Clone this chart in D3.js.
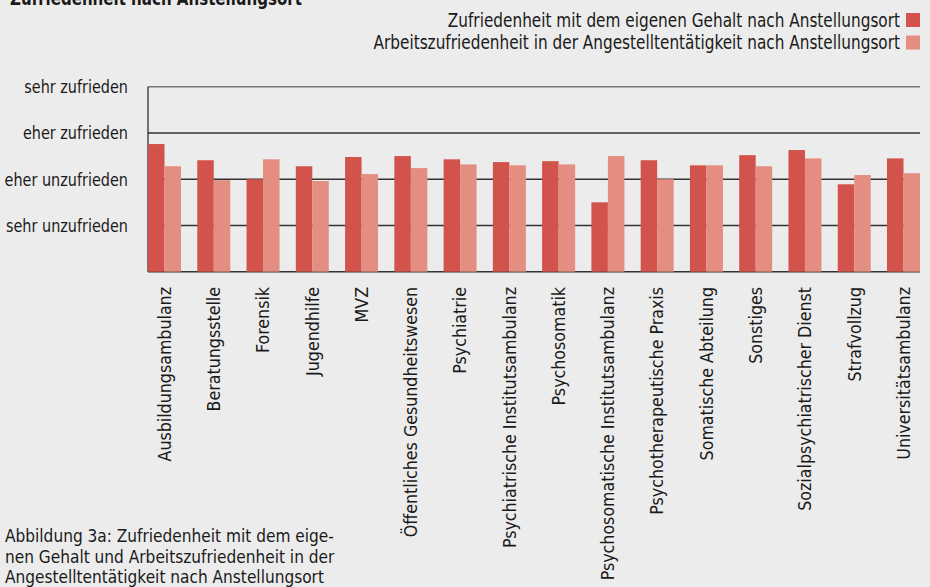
<!DOCTYPE html>
<html>
<head>
<meta charset="utf-8">
<script src="https://cdn.jsdelivr.net/npm/d3@7"></script>
<style>
    body { margin: 0; background: #ececec; }
    svg { display: block; }
    text { font-family: "DejaVu Sans Condensed", "DejaVu Sans", sans-serif; fill: #1a1a1a; }
</style>
</head>
<body>
<div id="chart"></div>
<script>
const categories = ["Ausbildungsambulanz", "Beratungsstelle", "Forensik", "Jugendhilfe", "MVZ",
    "Öffentliches Gesundheitswesen", "Psychiatrie", "Psychiatrische Institutsambulanz", "Psychosomatik",
    "Psychosomatische Institutsambulanz", "Psychotherapeutische Praxis", "Somatische Abteilung",
    "Sonstiges", "Sozialpsychiatrischer Dienst", "Strafvollzug", "Universitätsambulanz"];
const gehalt = [2.76, 2.41, 2.00, 2.28, 2.48, 2.50, 2.43, 2.37, 2.39, 1.50, 2.41, 2.30, 2.52, 2.63, 1.89, 2.45];
const arbeit = [2.28, 1.98, 2.43, 1.96, 2.11, 2.24, 2.32, 2.30, 2.32, 2.50, 2.00, 2.30, 2.28, 2.45, 2.09, 2.13];
const tickValues = [1, 2, 3, 4];
const tickLabels = ["sehr unzufrieden", "eher unzufrieden", "eher zufrieden", "sehr zufrieden"];
const seriesNames = ["Zufriedenheit mit dem eigenen Gehalt nach Anstellungsort",
    "Arbeitszufriedenheit in der Angestelltentätigkeit nach Anstellungsort"];
const colors = ["#d2534b", "#e38e81"];
const title = "Zufriedenheit nach Anstellungsort";
const caption = ["Abbildung 3a: Zufriedenheit mit dem eige-",
    "nen Gehalt und Arbeitszufriedenheit in der",
    "Angestelltentätigkeit nach Anstellungsort"];

const W = 930, H = 587;
const plot = { left: 148, right: 920, top: 86.7, bottom: 271.7 };

const svg = d3.select("#chart").append("svg")
    .attr("width", W)
    .attr("height", H);

// the original uses a condensed face, so squeeze the glyphs a bit
function squeeze(sel, ratio) {
    sel.each(function() {
        const len = this.getComputedTextLength();
        d3.select(this)
            .attr("textLength", len * ratio)
            .attr("lengthAdjust", "spacingAndGlyphs");
    });
}

const x = d3.scaleBand().domain(categories).range([plot.left, plot.right]).paddingInner(0.33).paddingOuter(0);
const xSub = d3.scaleBand().domain([0, 1]).range([0, x.bandwidth()]);
const y = d3.scaleLinear().domain([0, 4]).range([plot.bottom, plot.top]);

// title (cut off at the top edge)
svg.append("text")
    .attr("x", 10)
    .attr("y", 5)
    .attr("font-size", "19px")
    .style("font-weight", "bold")
    .text(title)
    .call(squeeze, 0.88);

// legend
seriesNames.forEach((name, i) => {
    const ly = 20 + i * 22.5;
    svg.append("text")
        .attr("x", 900)
        .attr("y", ly)
        .attr("dy", "0.35em")
        .attr("text-anchor", "end")
        .attr("font-size", "19px")
        .text(name)
        .call(squeeze, 0.895);
    svg.append("rect")
        .attr("x", 906)
        .attr("y", ly - 7)
        .attr("width", 14)
        .attr("height", 14)
        .attr("fill", colors[i]);
});

// grid lines
svg.selectAll(".grid")
    .data([0, 1, 2, 3, 4])
    .enter().append("line")
    .attr("class", "grid")
    .attr("x1", plot.left)
    .attr("x2", plot.right)
    .attr("y1", d => y(d))
    .attr("y2", d => y(d))
    .attr("stroke", d => d === 4 ? "#777" : "#333")
    .attr("stroke-width", 1.6);

svg.append("line")
    .attr("x1", plot.left)
    .attr("x2", plot.left)
    .attr("y1", y(4))
    .attr("y2", y(0))
    .attr("stroke", "#222")
    .attr("stroke-width", 1.2);

// y labels
svg.selectAll(".ylabel")
    .data(tickValues)
    .enter().append("text")
    .attr("class", "ylabel")
    .attr("x", 128)
    .attr("y", d => y(d))
    .attr("dy", "0.35em")
    .attr("text-anchor", "end")
    .attr("font-size", "18px")
    .text((d, i) => tickLabels[i])
    .call(squeeze, 0.89);

// bars
[gehalt, arbeit].forEach((values, s) => {
    svg.selectAll(".bar" + s)
        .data(values)
        .enter().append("rect")
        .attr("class", "bar" + s)
        .attr("x", (d, i) => x(categories[i]) + xSub(s))
        .attr("y", d => y(d))
        .attr("width", xSub.bandwidth())
        .attr("height", d => y(0) - y(d))
        .attr("fill", colors[s]);
});

// category labels
svg.selectAll(".xlabel")
    .data(categories)
    .enter().append("text")
    .attr("class", "xlabel")
    .attr("transform", d => `translate(${x(d) + x.bandwidth() / 2},287) rotate(-90)`)
    .attr("dy", "0.35em")
    .attr("text-anchor", "end")
    .attr("font-size", "18px")
    .text(d => d)
    .call(squeeze, 0.98);

// caption
svg.selectAll(".caption")
    .data(caption)
    .enter().append("text")
    .attr("class", "caption")
    .attr("x", 5)
    .attr("y", (d, i) => 542 + i * 20.5)
    .attr("font-size", "18px")
    .text(d => d)
    .call(squeeze, 0.95);
</script>
</body>
</html>
